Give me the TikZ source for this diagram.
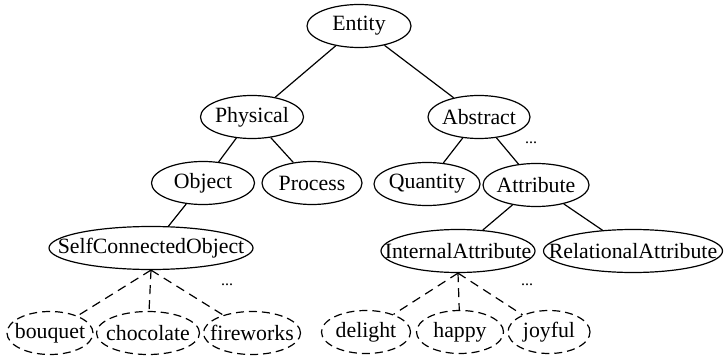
\documentclass[tikz,border=0pt]{standalone}
\usepackage{fontspec}
\setmainfont{Liberation Serif}
\usetikzlibrary{shapes.geometric}
\newcommand\zbox[1]{\makebox[0pt]{#1}}
\begin{document}
\begin{tikzpicture}[x=1pt,y=-1pt,
  concept/.style={draw, ellipse, line width=1.2pt, inner sep=0pt, minimum height=43pt,
    font=\fontsize{21.8}{24}\selectfont},
  leaf/.style={concept, dash pattern=on 8pt off 5pt},
  edge/.style={line width=1.2pt},
  dedge/.style={line width=1.2pt, dash pattern=on 9pt off 6pt},
  dotsl/.style={font=\fontsize{16}{18}\selectfont, inner sep=0pt}]
\useasboundingbox (0,0) rectangle (727,358);
\node[concept, minimum width=104pt, minimum height=43pt] (entity) at (359,26) {\zbox{Entity}};
\node[concept, minimum width=103pt] (physical) at (252,117) {\zbox{Physical}};
\node[concept, minimum width=102pt] (abstract) at (479,117) {\zbox{Abstract}};
\node[concept, minimum width=103pt] (object) at (203,183) {\zbox{Object}};
\node[concept, minimum width=100pt] (process) at (312,183) {\zbox{Process}};
\node[concept, minimum width=106pt] (quantity) at (427,184) {\zbox{Quantity}};
\node[concept, minimum width=106pt] (attribute) at (536,185) {\zbox{Attribute}};
\node[concept, minimum width=204pt] (sco) at (151,248) {\zbox{SelfConnectedObject}};
\node[concept, minimum width=154pt] (ia) at (458,251) {\zbox{InternalAttribute}};
\node[concept, minimum width=179pt] (ra) at (633,251) {\zbox{RelationalAttribute}};
\node[leaf, minimum width=86pt] (bouquet) at (50,333) {\zbox{bouquet}};
\node[leaf, minimum width=103pt] (chocolate) at (148,333) {\zbox{chocolate}};
\node[leaf, minimum width=97pt] (fireworks) at (252,333) {\zbox{fireworks}};
\node[leaf, minimum width=89pt] (delight) at (366,332) {\zbox{delight}};
\node[leaf, minimum width=87pt] (happy) at (460,332) {\zbox{happy}};
\node[leaf, minimum width=82pt] (joyful) at (549,332) {\zbox{joyful}};
\node[dotsl] (d1) at (531,143) {...};
\node[dotsl] (d2) at (227,285) {...};
\node[dotsl] (d3) at (527,285) {...};
\draw[edge] (entity) -- (physical);
\draw[edge] (entity) -- (abstract);
\draw[edge] (physical) -- (object);
\draw[edge] (physical) -- (process);
\draw[edge] (abstract) -- (quantity);
\draw[edge] (abstract) -- (attribute);
\draw[edge] (object) -- (sco);
\draw[edge] (attribute) -- (ia);
\draw[edge] (attribute) -- (ra);
\draw[dedge] (sco.south) -- (bouquet);
\draw[dedge] (sco.south) -- (chocolate);
\draw[dedge] (sco.south) -- (fireworks);
\draw[dedge] (ia.south) -- (delight);
\draw[dedge] (ia.south) -- (happy);
\draw[dedge] (ia.south) -- (joyful);
\end{tikzpicture}
\end{document}
